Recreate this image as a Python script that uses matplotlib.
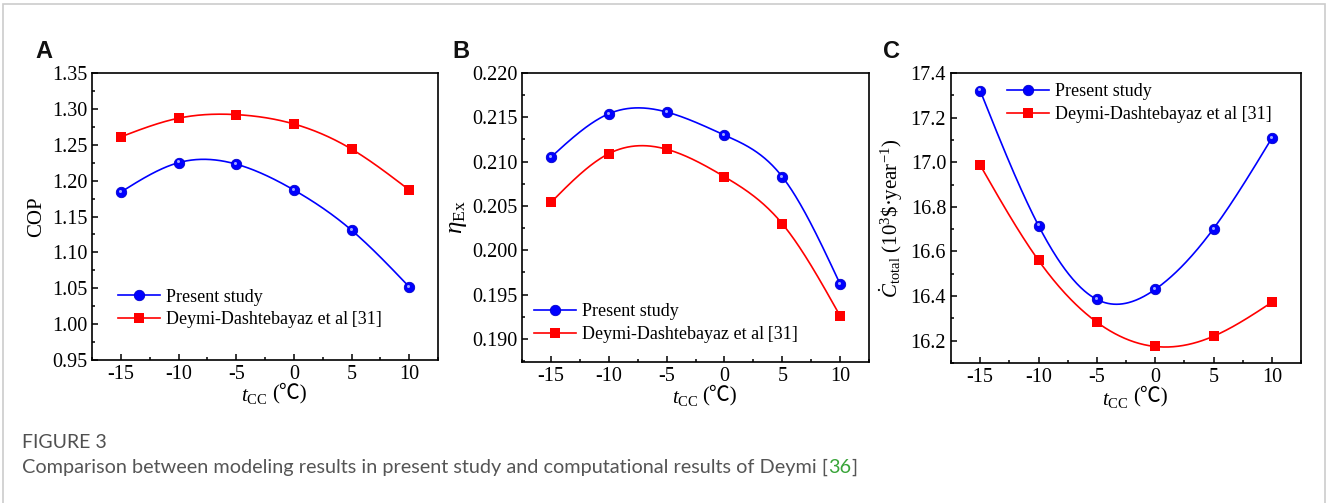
import numpy as np
import matplotlib
matplotlib.use("Agg")
import matplotlib.pyplot as plt
from matplotlib.ticker import MultipleLocator, FormatStrFormatter
from matplotlib.patches import Rectangle

plt.rcParams['font.family'] = ['Liberation Serif', 'DejaVu Serif']
plt.rcParams['mathtext.fontset'] = 'custom'
plt.rcParams['mathtext.rm'] = 'Liberation Serif'
plt.rcParams['mathtext.it'] = 'Liberation Serif:italic'
plt.rcParams['mathtext.bf'] = 'Liberation Serif:bold'
plt.rcParams['axes.unicode_minus'] = False

t_cc = [-15, -10, -5, 0, 5, 10]

cop_present = [1.184, 1.225, 1.223, 1.187, 1.131, 1.052]
cop_deymi = [1.261, 1.287, 1.292, 1.279, 1.244, 1.187]

ex_present = [0.2105, 0.2154, 0.2156, 0.2130, 0.2083, 0.1962]
ex_deymi = [0.2054, 0.2109, 0.2114, 0.2083, 0.2030, 0.1926]

cost_present = [17.321, 16.716, 16.385, 16.430, 16.702, 17.108]
cost_deymi = [16.987, 16.560, 16.283, 16.174, 16.220, 16.372]

label_present = "Present study"
label_deymi_ab = "Deymi-Dashtebayaz et al\u2009[31]"
label_deymi_c = "Deymi-Dashtebayaz et al [31]"


def spline(x, y, n=300):
    # natural cubic spline, just for the smooth connecting line
    x = np.asarray(x, float)
    y = np.asarray(y, float)
    k = len(x)
    h = np.diff(x)
    A = np.zeros((k, k))
    b = np.zeros(k)
    A[0, 0] = A[-1, -1] = 1
    for i in range(1, k - 1):
        A[i, i - 1] = h[i - 1]
        A[i, i] = 2 * (h[i - 1] + h[i])
        A[i, i + 1] = h[i]
        b[i] = 6 * ((y[i + 1] - y[i]) / h[i] - (y[i] - y[i - 1]) / h[i - 1])
    M = np.linalg.solve(A, b)
    xs = np.linspace(x[0], x[-1], n)
    idx = np.clip(np.searchsorted(x, xs) - 1, 0, k - 2)
    x0, x1 = x[idx], x[idx + 1]
    hh = x1 - x0
    ys = (M[idx] * (x1 - xs) ** 3 / (6 * hh) + M[idx + 1] * (xs - x0) ** 3 / (6 * hh)
          + (y[idx] / hh - M[idx] * hh / 6) * (x1 - xs)
          + (y[idx + 1] / hh - M[idx + 1] * hh / 6) * (xs - x0))
    return xs, ys


BLUE = '#0000ff'
RED = '#ff0000'

fig = plt.figure(figsize=(13.28, 5.03), dpi=100)
fig.patches.append(Rectangle((3 / 1328, -0.1), 1322 / 1328, 1.1 - 4 / 503,
                             transform=fig.transFigure, fill=False,
                             edgecolor='#cccccc', linewidth=1.2))

boxes = [
    [92 / 1328, 1 - 360 / 503, 346 / 1328, 287 / 503],
    [522 / 1328, 1 - 362 / 503, 347 / 1328, 289 / 503],
    [951 / 1328, 1 - 363 / 503, 350 / 1328, 290 / 503],
]

hl = matplotlib.transforms.ScaledTranslation(-1 / 100, 1.2 / 100, fig.dpi_scale_trans)


def draw(ax, present, deymi):
    xs, ys = spline(t_cc, present)
    ax.plot(xs, ys, color=BLUE, lw=1.2)
    xs, ys = spline(t_cc, deymi)
    ax.plot(xs, ys, color=RED, lw=1.2)
    ax.plot(t_cc, present, 'o', color=BLUE, ms=7.5, mec='#0000cc', mew=0.6)
    ax.plot(t_cc, present, 'o', color='#9fa8ff', ms=2.2, mew=0,
            transform=ax.transData + hl)
    ax.plot(t_cc, deymi, 's', color=RED, ms=6.5, mew=0)
    h1, = ax.plot([], [], '-o', color=BLUE, ms=7.5, mec='#0000cc', mew=0.6, lw=1.2)
    h2, = ax.plot([], [], '-s', color=RED, ms=6.5, mew=0, lw=1.2)
    ax.set_xlim(-17.5, 12.5)
    ax.xaxis.set_major_locator(MultipleLocator(5))
    ax.xaxis.set_minor_locator(MultipleLocator(2.5))
    ax.tick_params(which='both', direction='in', top=False, right=False,
                   labelsize=14.5, width=1.1)
    ax.tick_params(which='major', length=4.5)
    ax.tick_params(which='minor', length=2.5)
    for s in ax.spines.values():
        s.set_linewidth(1.2)
    ax.set_xlabel("$t_{\\mathrm{CC}}$", fontsize=15, labelpad=0)
    ax.xaxis.set_label_coords(0.47, -0.095)
    return [h1, h2]


def legend(ax, handles, deymi_label, **kw):
    ax.legend(handles, [label_present, deymi_label], frameon=False, fontsize=13,
              handlelength=2.3, handletextpad=0.35, labelspacing=0.3, borderpad=0, **kw)


# A
axA = fig.add_axes(boxes[0])
hA = draw(axA, cop_present, cop_deymi)
axA.set_ylim(0.95, 1.35)
axA.yaxis.set_major_locator(MultipleLocator(0.05))
axA.yaxis.set_minor_locator(MultipleLocator(0.025))
axA.yaxis.set_major_formatter(FormatStrFormatter('%.2f'))
axA.set_ylabel("COP", fontsize=15, labelpad=4)
legend(axA, hA, label_deymi_ab, loc='lower left', bbox_to_anchor=(0.05, 0.08))

# B
axB = fig.add_axes(boxes[1])
hB = draw(axB, ex_present, ex_deymi)
axB.set_ylim(0.1874, 0.220)
axB.yaxis.set_major_locator(MultipleLocator(0.005))
axB.yaxis.set_minor_locator(MultipleLocator(0.0025))
axB.yaxis.set_major_formatter(FormatStrFormatter('%.3f'))
axB.set_ylabel("$\\eta_{\\mathrm{Ex}}$", fontsize=18, labelpad=2)
legend(axB, hB, label_deymi_ab, loc='lower left', bbox_to_anchor=(0.01, 0.035))

# C
axC = fig.add_axes(boxes[2])
hC = draw(axC, cost_present, cost_deymi)
axC.set_ylim(16.1, 17.4)
axC.yaxis.set_major_locator(MultipleLocator(0.2))
axC.yaxis.set_minor_locator(MultipleLocator(0.1))
axC.yaxis.set_major_formatter(FormatStrFormatter('%.1f'))
axC.set_ylabel("$\\dot{C}_{\\mathrm{total}}$ (10$^3$\\$\u00b7year$^{-1}$)", fontsize=15, labelpad=4)
legend(axC, hC, label_deymi_c, loc='upper left', bbox_to_anchor=(0.135, 0.995))

# the degree-Celsius sign, placed after each t_CC label
fig.canvas.draw()
for ax in (axA, axB, axC):
    bb = ax.xaxis.label.get_window_extent()
    fig.text(bb.x1 / 1328 + 4 / 1328, bb.y0 / 503 + 3 / 503, "(\u2103)", fontsize=15,
             family=['Liberation Serif', 'Noto Sans CJK SC', 'DejaVu Serif'],
             va='bottom', ha='left')

for x, lab in [(35, 'A'), (452, 'B'), (883, 'C')]:
    fig.text(x / 1328, 1 - 58 / 503, lab, fontsize=17, fontweight='bold',
             family='Liberation Sans', color='#111111')

fig.text(22 / 1328, 1 - 448 / 503, "FIGURE 3", fontsize=14, family='Lato',
         color='#505050')
cap = fig.text(22 / 1328, 1 - 473 / 503,
               "Comparison between modeling results in present study and computational results of Deymi [",
               fontsize=14.3, family='Lato', color='#555555')
fig.canvas.draw()
bb = cap.get_window_extent()
t36 = fig.text(bb.x1 / 1328, 1 - 473 / 503, "36", fontsize=14.3, family='Lato', color='#3aa53a')
bb2 = t36.get_window_extent()
fig.text(bb2.x1 / 1328, 1 - 473 / 503, "]", fontsize=14.3, family='Lato', color='#555555')

fig.savefig("out.png", dpi=100)
